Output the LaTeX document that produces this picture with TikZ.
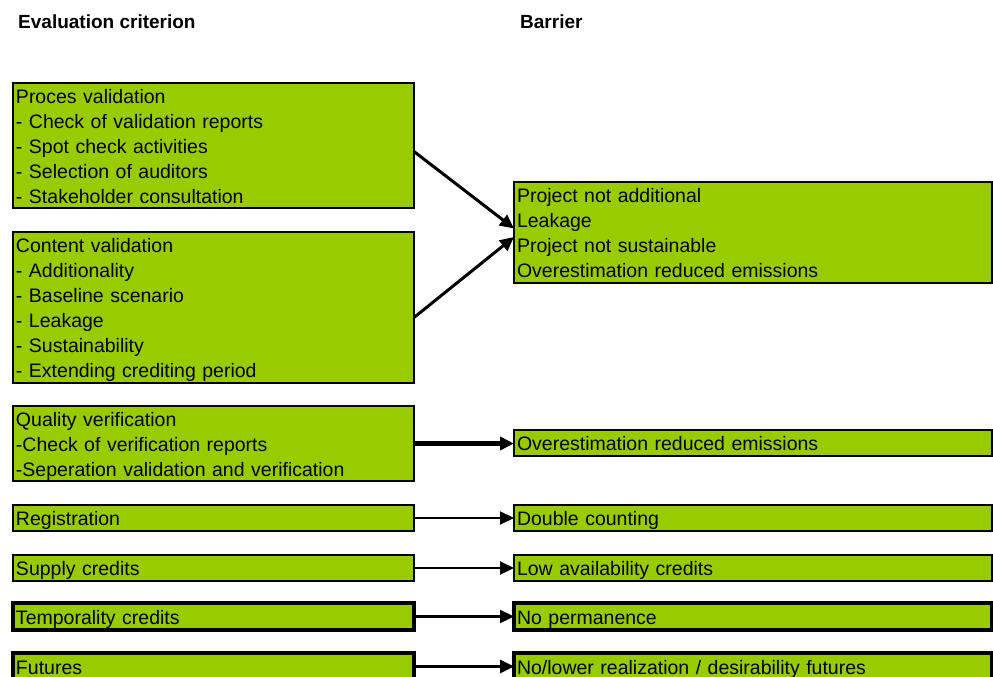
\documentclass[tikz,border=0pt]{standalone}
\usepackage{fontspec}
\setmainfont{Liberation Sans}
\usetikzlibrary{arrows.meta}
\definecolor{boxgreen}{RGB}{153,204,0}
\newcommand\ls{\rule[-5pt]{0pt}{25pt}}
\begin{document}
\begin{tikzpicture}[x=1pt,y=-1pt,
  box/.style={draw=black, line width=2.6pt, fill=boxgreen, anchor=north west, inner xsep=3pt, inner ysep=0pt, outer sep=0pt, align=left, font=\fontsize{19.5}{25}\selectfont},
  lbox/.style={box, text width=395pt},
  rbox/.style={box, text width=472pt},
  head/.style={anchor=base west, inner sep=0pt, font=\fontsize{19}{23}\selectfont\bfseries},
  conn/.style={-{Triangle[length=14pt,width=13pt]}, line width=#1},
]
\useasboundingbox (0,0) rectangle (993,677);
\node[head] (h1) at (18,29) {Evaluation criterion};
\node[head] (h2) at (520,29) {Barrier};
% left column
\node[lbox, minimum height=125pt] (b1) at (13,83) {\ls Proces validation\\\ls - Check of validation reports\\\ls - Spot check activities\\\ls - Selection of auditors\\\ls - Stakeholder consultation};
\node[lbox, minimum height=151pt] (b2) at (13,232) {\ls Content validation\\\ls - Additionality\\\ls - Baseline scenario\\\ls - Leakage\\\ls - Sustainability\\\ls - Extending crediting period};
\node[lbox, minimum height=75pt] (b3) at (13,406) {\ls Quality verification\\\ls -Check of verification reports\\\ls -Seperation validation and verification};
\node[lbox, minimum height=26pt] (b4) at (13,505) {\ls Registration};
\node[lbox, minimum height=26pt] (b5) at (13,555) {\ls Supply credits};
\node[lbox, minimum height=27pt, line width=3.2pt] (b6) at (13,603) {\ls Temporality credits};
\node[lbox, minimum height=27pt, line width=3.2pt] (b7) at (13,653) {\ls Futures};
% right column
\node[rbox, minimum height=101pt] (r1) at (514,182) {\ls Project not additional\\\ls Leakage\\\ls Project not sustainable\\\ls Overestimation reduced emissions};
\node[rbox, minimum height=26pt] (r2) at (514,430) {\ls Overestimation reduced emissions};
\node[rbox, minimum height=26pt] (r3) at (514,505) {\ls Double counting};
\node[rbox, minimum height=26pt] (r4) at (514,555) {\ls Low availability credits};
\node[rbox, minimum height=27pt, line width=3.2pt] (r5) at (514,603) {\ls No permanence};
\node[rbox, minimum height=27pt, line width=3.2pt] (r6) at (514,653) {\ls No/lower realization / desirability futures};
% connectors
\draw[conn=3pt] ([yshift=-6pt]b1.east) -- ([yshift=4pt]r1.west);
\draw[conn=3pt] ([yshift=-10pt]b2.east) -- ([yshift=-4.5pt]r1.west);
\draw[conn=4.5pt] (b3.east) -- (b3.east -| r2.west);
\draw[conn=1.8pt] (b4.east) -- (r3.west);
\draw[conn=2.3pt] (b5.east) -- (r4.west);
\draw[conn=2.3pt] (b6.east) -- (r5.west);
\draw[conn=2.8pt] (b7.east) -- (r6.west);
\end{tikzpicture}
\end{document}
